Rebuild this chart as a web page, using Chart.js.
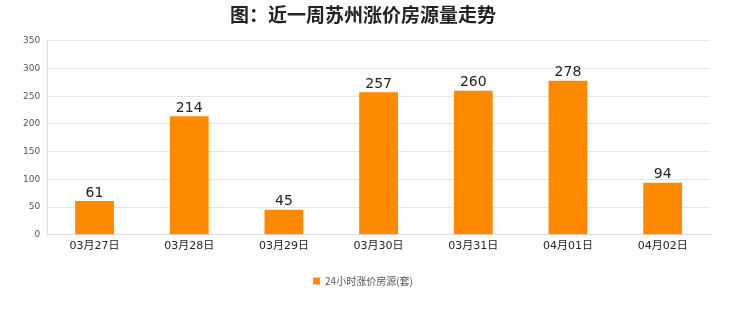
<!DOCTYPE html>
<html>
<head>
<meta charset="utf-8">
<script src="https://cdn.jsdelivr.net/npm/chart.js@4.4.0/dist/chart.umd.min.js"></script>
<style>
  html, body { margin: 0; padding: 0; background: #fff; }
  #wrap { width: 740px; height: 312px; }
</style>
</head>
<body>
<div id="wrap"><canvas id="c" width="740" height="312"></canvas></div>
<script>
// chart data
const days = ['03月27日', '03月28日', '03月29日', '03月30日', '03月31日', '04月01日', '04月02日'];
const counts = [61, 214, 45, 257, 260, 278, 94];
const seriesName = '24小时涨价房源(套)';
const titleText = '图：近一周苏州涨价房源量走势';

// draw value above each bar
const barValues = {
	id: 'barValues',
	afterDatasetsDraw: function(chart) {
		const ctx = chart.ctx;
		const meta = chart.getDatasetMeta(0);
		ctx.save();
		ctx.font = '14px "DejaVu Sans", sans-serif';
		ctx.fillStyle = '#222';
		ctx.textAlign = 'center';
		ctx.textBaseline = 'bottom';
		meta.data.forEach(function(bar, i) {
			ctx.fillText(String(counts[i]), bar.x, bar.y - 1);
		});
		ctx.restore();
	}
};

new Chart(document.getElementById('c'), {
	type: 'bar',
	data: {
		labels: days,
		datasets: [{
			label: seriesName,
			data: counts,
			backgroundColor: '#ff8a00',
			borderWidth: 0,
			categoryPercentage: 1,
			barPercentage: 0.41
		}]
	},
	options: {
		responsive: false,
		animation: false,
		layout: { padding: { left: 16, right: 30, top: 0, bottom: 16 } },
		plugins: {
			title: {
				display: true,
				text: titleText,
				color: '#222',
				font: { size: 19, weight: 'bold', family: '"Noto Sans CJK SC", sans-serif' },
				padding: { top: 3, bottom: 15 }
			},
			legend: {
				position: 'bottom',
				labels: {
					boxWidth: 7,
					boxHeight: 7,
					color: '#555',
					font: { size: 10, family: '"Noto Sans CJK SC", sans-serif' },
					padding: 14
				}
			},
			tooltip: { enabled: false }
		},
		scales: {
			x: {
				grid: { display: false },
				border: { color: '#ddd' },
				ticks: {
					color: '#222',
					font: { size: 11, family: '"DejaVu Sans", "Noto Sans CJK SC", sans-serif' },
					maxRotation: 0,
					padding: -3
				},
				// blank title only adds room under the labels
				title: {
					display: true,
					text: ' ',
					font: { size: 12, lineHeight: 1 },
					padding: { top: 0, bottom: 0 }
				}
			},
			y: {
				min: 0,
				max: 350,
				grid: { color: '#e6e6e6', drawTicks: false },
				border: { color: '#ddd' },
				ticks: {
					stepSize: 50,
					color: '#555',
					font: { size: 9, family: '"DejaVu Sans", sans-serif' },
					padding: 7
				}
			}
		}
	},
	plugins: [barValues]
});
</script>
</body>
</html>
